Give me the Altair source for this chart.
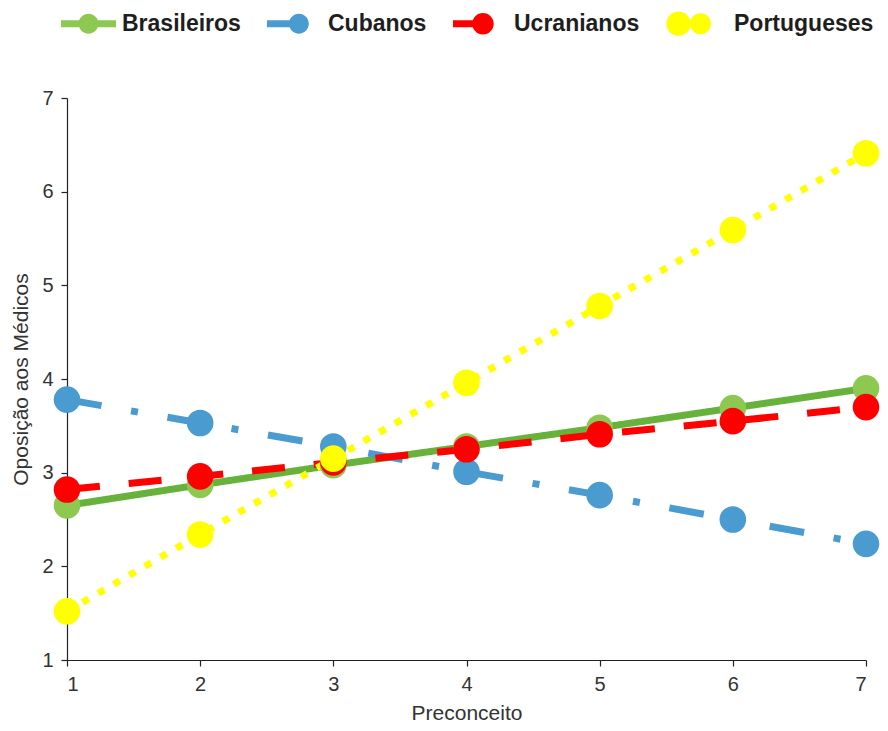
import altair as alt
import pandas as pd

# Preconceito (x) levels and predicted opposition per group
preconceito = [1, 2, 3, 4, 5, 6, 7]
grupos = ["Brasileiros", "Cubanos", "Ucranianos", "Portugueses"]
brasileiros = [2.65, 2.87, 3.08, 3.28, 3.48, 3.69, 3.90]
cubanos = [3.78, 3.53, 3.28, 3.01, 2.76, 2.50, 2.24]
ucranianos = [2.82, 2.96, 3.11, 3.25, 3.41, 3.55, 3.70]
portugueses = [1.52, 2.34, 3.15, 3.96, 4.78, 5.59, 6.41]
eixo_ticks = [1, 2, 3, 4, 5, 6, 7]

line_colors = ["#66B23B", "#4A9BCF", "#FF0000", "#FFFF00"]
marker_colors = ["#8DC851", "#4A9BCF", "#FF0000", "#FFFF00"]
dashes = [[1, 0], [35, 30, 7, 30], [33, 29], [7, 11]]

# legend glyphs: bar + circle drawn in the unit square
legend_shapes = [
    "M-1,-0.13H1V0.13H-1Z M-0.36,0A0.36,0.36 0 1,1 0.36,0A0.36,0.36 0 1,1 -0.36,0Z",
    "M-1,-0.13H-0.15V0.13H-1Z M-0.2,0A0.36,0.36 0 1,1 0.52,0A0.36,0.36 0 1,1 -0.2,0Z",
    "M-1,-0.13H-0.2V0.13H-1Z M-0.3,0A0.39,0.39 0 1,1 0.48,0A0.39,0.39 0 1,1 -0.3,0Z",
    "M-1.24,0A0.44,0.44 0 1,1 -0.36,0A0.44,0.44 0 1,1 -1.24,0Z M-0.38,0A0.38,0.38 0 1,1 0.38,0A0.38,0.38 0 1,1 -0.38,0Z",
]

rows = []
for nome, vals in zip(grupos, [brasileiros, cubanos, ucranianos, portugueses]):
    for x, y in zip(preconceito, vals):
        rows.append({"grupo": nome, "x": x, "y": y})
df = pd.DataFrame(rows)

FONT = "Liberation Sans"

x_enc = alt.X(
    "x:Q",
    title="Preconceito",
    scale=alt.Scale(domain=[1, 7], nice=False, zero=False),
    axis=alt.Axis(values=eixo_ticks, format="d", grid=False),
)
y_enc = alt.Y(
    "y:Q",
    title="Oposição aos Médicos",
    scale=alt.Scale(domain=[1, 7], nice=False, zero=False),
    axis=alt.Axis(values=eixo_ticks, format="d", grid=False),
)

base = alt.Chart(df)

# data-driven (sorted) domains for the drawing scales, explicit domain for the legend scales
lines = base.mark_line(strokeWidth=7, strokeCap="butt").encode(
    x=x_enc,
    y=y_enc,
    stroke=alt.Stroke("grupo:N", sort=grupos, scale=alt.Scale(range=line_colors), legend=None),
    strokeDash=alt.StrokeDash("grupo:N", sort=grupos, scale=alt.Scale(range=dashes), legend=None),
    detail="grupo:N",
)

points = base.mark_circle(size=707, opacity=1).encode(
    x=x_enc,
    y=y_enc,
    fill=alt.Fill("grupo:N", sort=grupos, scale=alt.Scale(range=marker_colors), legend=None),
)

# empty layer: carries only the legend (color + glyph shape)
legend_layer = base.transform_filter("datum.x < 0").mark_point(filled=True, opacity=1).encode(
    x=x_enc,
    y=y_enc,
    color=alt.Color(
        "grupo:N",
        scale=alt.Scale(domain=grupos, range=marker_colors),
        legend=alt.Legend(
            title=None,
            orient="none",
            direction="horizontal",
            legendX=-6,
            legendY=-102,
            symbolSize=3025,
            symbolStrokeWidth=0,
            symbolOpacity=1,
            labelFont=FONT,
            labelFontSize=23,
            labelFontWeight="bold",
            labelColor="#1e1e1e",
            labelOffset=6,
            columnPadding=26,
            padding=0,
        ),
    ),
    shape=alt.Shape(
        "grupo:N",
        scale=alt.Scale(domain=grupos, range=legend_shapes),
        legend=alt.Legend(title=None),
    ),
)

chart = (
    alt.layer(lines, points, legend_layer)
    .properties(
        width=799,
        height=562,
        autosize=alt.AutoSizeParams(type="none"),
        padding={"left": 67, "top": 98, "right": 22, "bottom": 71},
        background="white",
    )
    .configure_view(stroke=None)
    .configure_axis(
        domainColor="#222222",
        domainWidth=1.2,
        tickColor="#222222",
        tickWidth=1.2,
        tickSize=6,
        labelFont=FONT,
        labelFontSize=20,
        labelColor="#333333",
        labelPadding=8,
        titleFont=FONT,
        titleFontSize=21,
        titleFontWeight="normal",
        titleColor="#333333",
    )
    .configure_axisY(titlePadding=10)
    .configure_axisX(titlePadding=8)
)

chart.save("out.html", embed_options={"renderer": "svg", "actions": False})
